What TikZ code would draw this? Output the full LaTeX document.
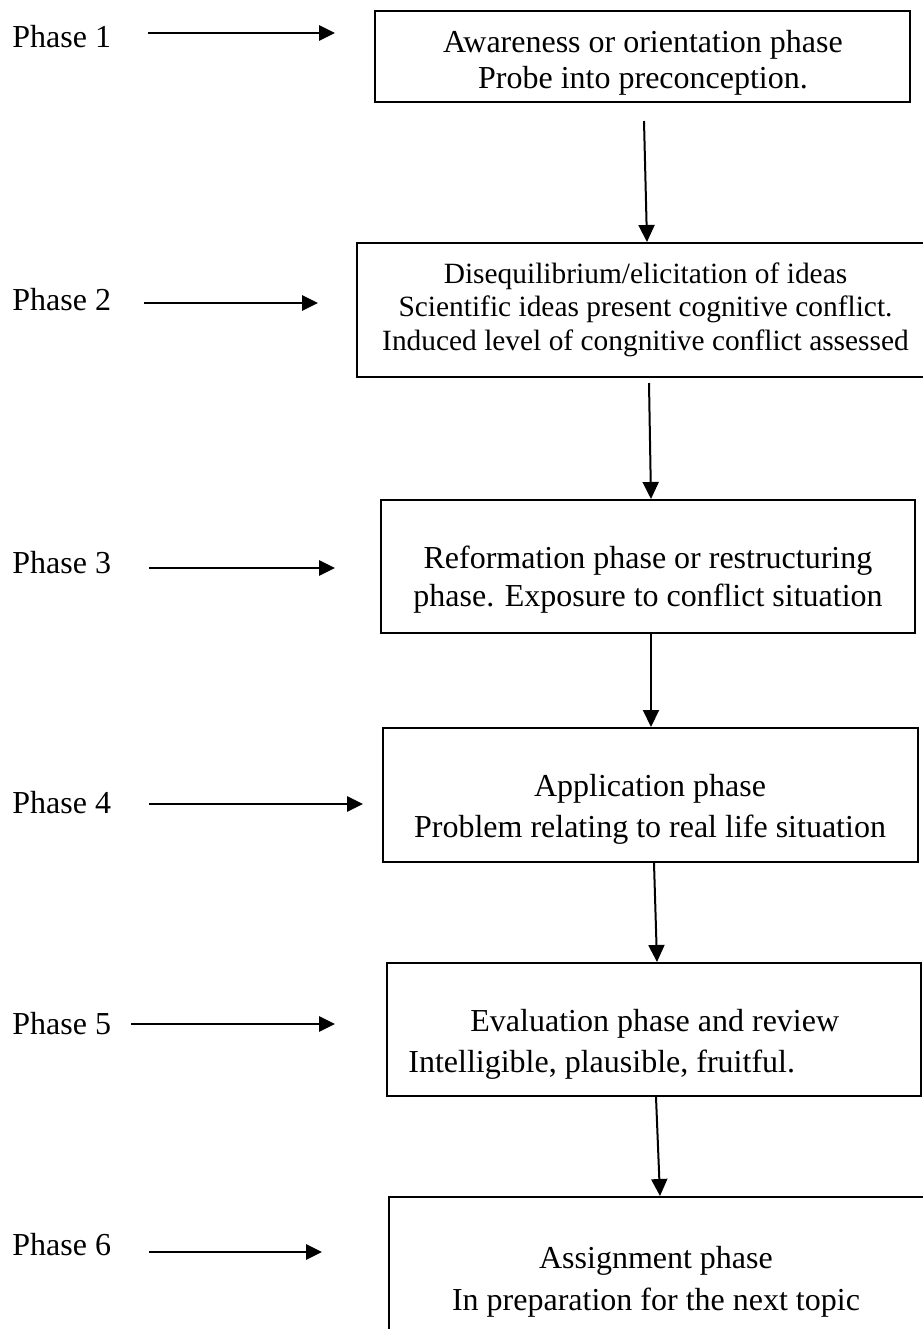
\documentclass[tikz,border=0pt]{standalone}
\usepackage{fontspec}
\setmainfont{Liberation Serif}
\usetikzlibrary{calc,positioning,arrows.meta}
\tikzset{
stage/.style={draw, rectangle, line width=1pt, inner sep=0pt},
stagetext/.style={align=center, inner sep=0pt, font=\fontsize{16}{#1}\selectfont},
stagetext/.default=20,
phaselabel/.style={anchor=base west, inner sep=0pt, font=\fontsize{16}{19}\selectfont},
lead/.style={line width=1.4pt, -{Triangle[length=8pt,width=7.5pt]}},
flow/.style={line width=1pt, -{Triangle[length=8.5pt,width=8pt]}},
}

\begin{document}
\begin{tikzpicture}[x=0.5pt,y=-0.5pt]
    \useasboundingbox (0,0) rectangle (922,1329);

    \node[stage, minimum width=267.5pt, minimum height=45.5pt] (s1) at (642.5,56.5) {};
    \node[stage, minimum width=289pt, minimum height=67pt] (s2) at (646,310) {};
    \node[stage, minimum width=267pt, minimum height=66.5pt] (s3) at (648,566.5) {};
    \node[stage, minimum width=267.5pt, minimum height=67pt] (s4) at (650.5,795) {};
    \node[stage, minimum width=267pt, minimum height=66.5pt] (s5) at (654,1029.5) {};
    \node[stage, minimum width=273pt, minimum height=71.5pt] (s6) at (662,1268.5) {};

    \node[stagetext=18] (t1) at (643,62.3) {Awareness or orientation phase\\Probe into preconception.};
    \node[stagetext, font=\fontsize{14.7}{16.75}\selectfont] (t2) at (645.5,309.5)
        {Disequilibrium/elicitation of ideas\\Scientific ideas present cognitive conflict.\\Induced level of congnitive conflict assessed};
    \node[stagetext=19] (t3) at (648,579.3) {Reformation phase or restructuring\\phase. Exposure to conflict situation};
    \node[stagetext=20.5] (t4) at (650,809.8) {Application phase\\Problem relating to real life situation};
    \node[stagetext=20.5, align=left, anchor=west] (t5) at (408,1044.8)
        {\hspace*{31pt}Evaluation phase and review\\Intelligible, plausible, fruitful.};
    \node[stagetext=21] (t6) at (656,1281.3) {Assignment phase\\In preparation for the next topic};

    \draw[flow] ($(s1.south)+(1.5,18)$) -- ($(s2.north)+(1,0)$);
    \draw[flow] ($(s2.south)+(3,5)$) -- ($(s3.north)+(3,0)$);
    \draw[flow] ($(s3.south)+(3,0)$) -- ($(s4.north)+(0.5,0)$);
    \draw[flow] ($(s4.south)+(3.5,0)$) -- ($(s5.north)+(3,0)$);
    \draw[flow] ($(s5.south)+(2,0)$) -- ($(s6.north)+(-2,0)$);

    \foreach \i/\base/\xa/\xb/\y in {1/47/148/335/33, 2/310/144/318/303, 3/573/149/335/568,
                                     4/813/149/363/804, 5/1034/131/335/1024, 6/1255/149/322/1252}{
        \node[phaselabel] (ph\i) at (12,\base) {Phase \i};
        \coordinate (tail\i) at (\xa,\y);
        \coordinate (tip\i) at (\xb,\y);
        \draw[lead] (tail\i) -- (tip\i);
    }
\end{tikzpicture}
\end{document}
